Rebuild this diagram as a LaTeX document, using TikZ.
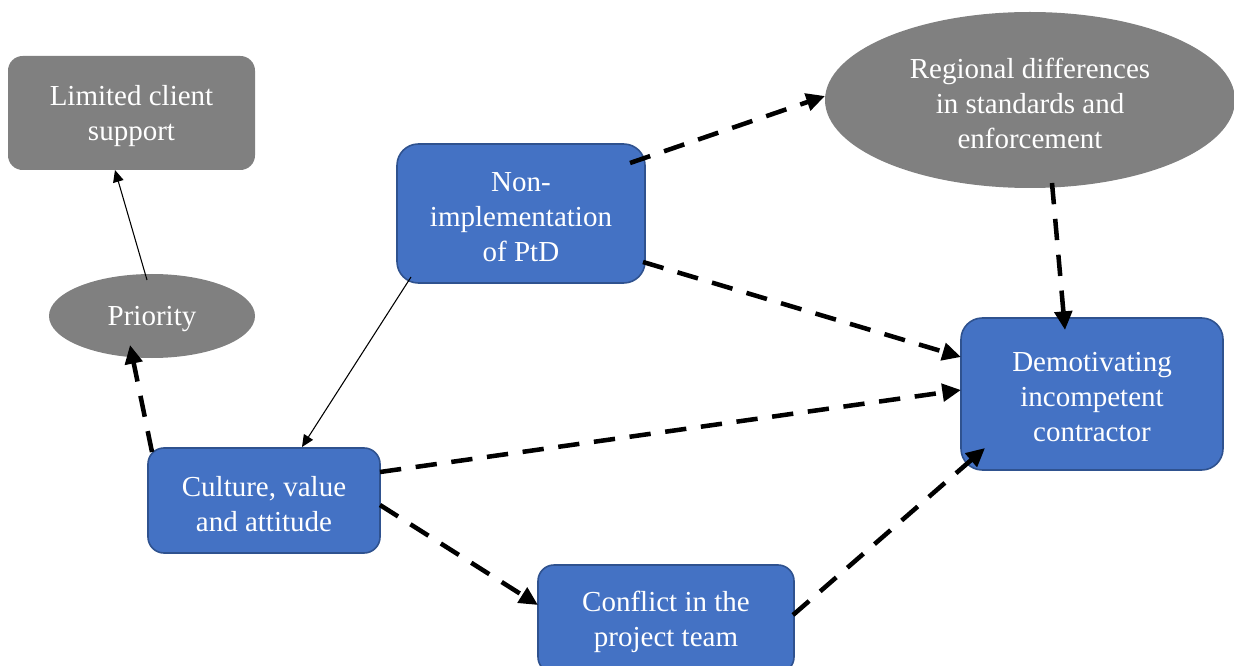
\documentclass[tikz,border=0pt]{standalone}
\usepackage{fontspec}
\setmainfont{Liberation Serif}
\usetikzlibrary{shapes.geometric,arrows.meta,calc}
\definecolor{boxblue}{HTML}{4472C4}
\definecolor{boxedge}{HTML}{2F528F}
\definecolor{shapegray}{HTML}{808080}
\begin{document}
\begin{tikzpicture}[x=0.75pt,y=-0.75pt,
  lbl/.style={text=white,align=center,font=\fontsize{21.75}{26.25}\selectfont,inner sep=0pt,yshift=-2.5pt},
  bluebox/.style={rectangle,rounded corners=16pt,fill=boxblue,draw=boxedge,line width=1.2pt},
  graybox/.style={rectangle,rounded corners=11pt,fill=shapegray},
  grayell/.style={ellipse,fill=shapegray},
  thinarrow/.style={line width=0.8pt,-{Triangle[length=9pt,width=8pt]}},
  dasharrow/.style={line width=3.4pt,dash pattern=on 16pt off 11pt,-{Triangle[length=14pt,width=13pt]}}
]
\useasboundingbox (0,0) rectangle (1234,666);
\node[graybox,minimum width=185.25pt,minimum height=85.5pt,
  label={[lbl]center:{Limited client\\support}}] (lim) at (131.5,113) {};
\node[grayell,minimum width=154.5pt,minimum height=63pt,
  label={[lbl]center:{Priority}}] (pri) at (152,316) {};
\node[bluebox,minimum width=186pt,minimum height=104.25pt,
  label={[lbl]center:{Non-\\implementation\\of PtD}}] (non) at (521,213.5) {};
\node[grayell,minimum width=307.5pt,minimum height=132pt,
  label={[lbl]center:{Regional differences\\in standards and\\enforcement}}] (reg) at (1030,100) {};
\node[bluebox,minimum width=196.5pt,minimum height=114pt,
  label={[lbl]center:{Demotivating\\incompetent\\contractor}}] (dem) at (1092,394) {};
\node[bluebox,rounded corners=12pt,minimum width=174pt,minimum height=78.75pt,
  label={[lbl]center:{Culture, value\\and attitude}}] (cul) at (264,500.5) {};
\node[bluebox,rounded corners=12pt,minimum width=192pt,minimum height=81pt,
  label={[lbl]center:{Conflict in the\\project team}}] (con) at (666,619) {};

\draw[thinarrow] ($(pri.center)+(-5,-36)$) -- ($(lim.center)+(-16.5,57)$);
\draw[thinarrow] ($(non.center)+(-110,63.5)$) -- ($(cul.center)+(38,-53.5)$);
\draw[dasharrow] ($(cul.center)+(-112,-48.5)$) -- ($(pri.center)+(-22,29)$);
\draw[dasharrow] ($(non.center)+(109,-50.5)$) -- ($(reg.center)+(-205,-4)$);
\draw[dasharrow] ($(non.center)+(122,48.5)$) -- ($(dem.center)+(-131,-37)$);
\draw[dasharrow] ($(cul.center)+(116,-28.5)$) -- ($(dem.center)+(-131,-4)$);
\draw[dasharrow] ($(cul.center)+(116,4.5)$) -- ($(con.center)+(-128,-14)$);
\draw[dasharrow] ($(con.center)+(127,-4)$) -- ($(dem.center)+(-107,54)$);
\draw[dasharrow] ($(reg.center)+(22,83)$) -- ($(dem.center)+(-27,-64)$);
\end{tikzpicture}
\end{document}
